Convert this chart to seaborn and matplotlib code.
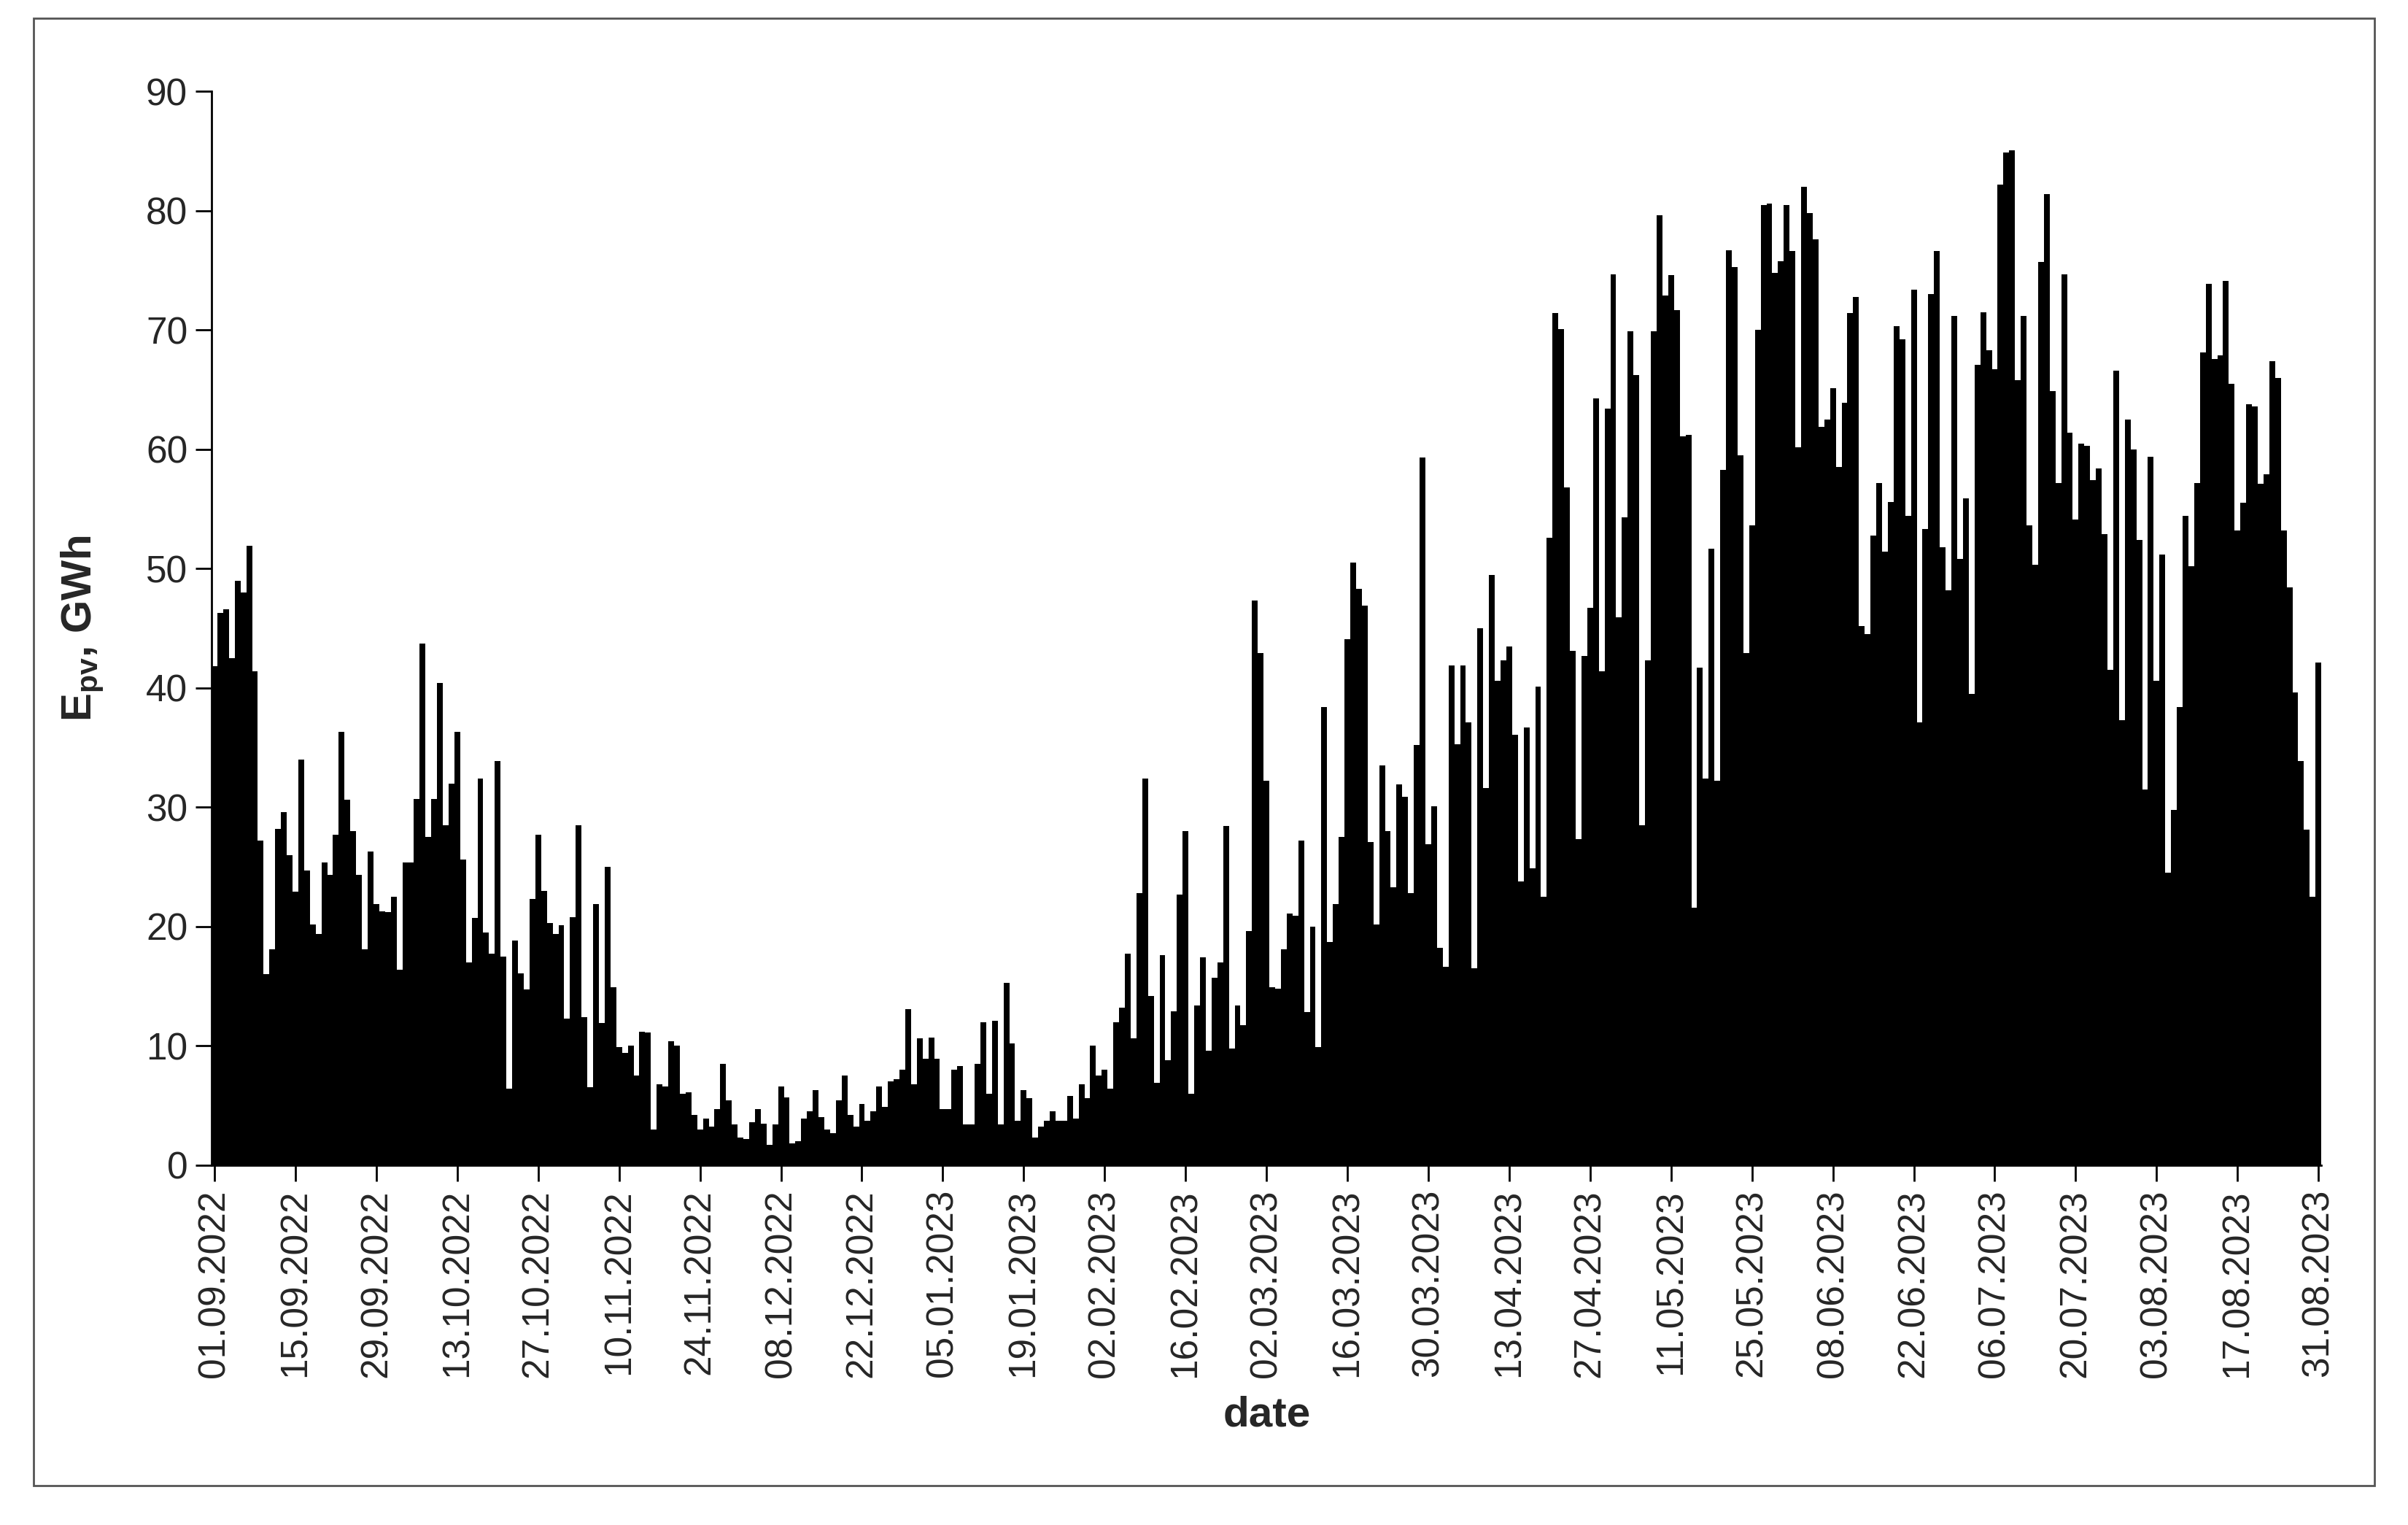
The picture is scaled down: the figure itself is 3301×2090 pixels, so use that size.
import numpy as np
import pandas as pd
import matplotlib
matplotlib.use("Agg")
import matplotlib.pyplot as plt
import seaborn as sns
from matplotlib.patches import Rectangle

start_date = "2022-09-01"
values = [
    41.8, 46.3, 46.6, 42.5, 49, 48, 51.9, 41.4, 27.2, 16, 18.1, 28.2, 29.6, 26, 22.9,
    34, 24.7, 20.2, 19.4, 25.4, 24.3, 27.7, 36.3, 30.6, 28, 24.3, 18.1, 26.3, 21.9, 21.3, 21.2,
    22.5, 16.4, 25.4, 25.4, 30.7, 43.7, 27.5, 30.7, 40.4, 28.5, 32, 36.3, 25.6, 17, 20.7, 32.4,
    19.5, 17.7, 33.9, 17.5, 6.4, 18.8, 16.1, 14.7, 22.3, 27.7, 23, 20.3, 19.4, 20.1, 12.3, 20.8,
    28.5, 12.4, 6.5, 21.9, 11.9, 25, 14.9, 9.9, 9.4, 10, 7.5, 11.2, 11.1, 3, 6.8, 6.6, 10.4, 10,
    6, 6.1, 4.2, 3, 3.9, 3.2, 4.7, 8.5, 5.4, 3.4, 2.3, 2.2, 3.6,
    4.7, 3.5, 1.7, 3.4, 6.6, 5.7, 1.8, 2.0, 3.9, 4.5, 6.3, 4.0, 3.0, 2.7, 5.4, 7.5, 4.2, 3.2,
    5.1, 3.7, 4.5, 6.6, 4.9, 7.0, 7.2, 8.0, 13.1, 6.8, 10.6, 8.9, 10.7,
    8.9, 4.7, 4.7, 8.0, 8.3, 3.4, 3.4, 8.5, 12.0, 6.0, 12.1, 3.4, 15.3, 10.2, 3.7, 6.3, 5.6,
    2.3, 3.2, 3.7, 4.5, 3.7, 3.7, 5.8, 3.9, 6.8, 5.6, 10.0, 7.5, 8.0, 6.4, 12.0,
    13.2, 17.7, 10.6, 22.8, 32.4, 14.2, 6.9, 17.6, 8.8, 12.9, 22.7, 28, 6.0, 13.4, 17.4, 9.6,
    15.7, 17.0, 28.4, 9.8, 13.4, 11.7, 19.6, 47.3, 42.9, 32.2, 14.9, 14.8, 18.1, 21.1, 20.9, 27.2,
    12.8, 20.0, 9.9, 38.4, 18.7, 21.9, 27.5, 44.1, 50.5, 48.3, 46.9, 27.1, 20.2, 33.5, 28.0,
    23.3, 31.9, 30.9, 22.8, 35.2, 59.3, 26.9, 30.1, 18.2, 16.6, 41.9, 35.3, 41.9, 37.1, 16.5, 45,
    31.6, 49.5, 40.6, 42.3, 43.5, 36.1, 23.8, 36.7, 24.9, 40.1, 22.5, 52.6, 71.4, 70.1, 56.8,
    43.1, 27.3, 42.7, 46.7, 64.3, 41.4, 63.4, 74.7, 45.9, 54.3, 69.9, 66.2, 28.5, 42.3, 69.9, 79.6,
    72.9, 74.6, 71.7, 61.1, 61.2, 21.6, 41.7, 32.4, 51.7, 32.2, 58.3, 76.7, 75.3, 59.5, 42.9,
    53.6, 70.0, 80.5, 80.6, 74.8, 75.8, 80.5, 76.6, 60.2, 82.0, 79.8, 77.6, 61.9, 62.5, 65.1, 58.5, 63.9,
    71.4, 72.8, 45.2, 44.5, 52.8, 57.2, 51.4, 55.6, 70.3, 69.2, 54.4, 73.4, 37.1, 53.3, 73.0,
    76.6, 51.8, 48.2, 71.2, 50.8, 55.9, 39.5, 67.1, 71.5, 68.3, 66.7, 82.2, 84.9, 85.1, 65.8, 71.2,
    53.6, 50.3, 75.7, 81.4, 64.9, 57.2, 74.7, 61.4, 54.1, 60.5, 60.3, 57.4, 58.4, 52.9, 41.5,
    66.6, 37.3, 62.5, 60.0, 52.4, 31.5, 59.4, 40.6, 51.2, 24.5, 29.8, 38.4, 54.4, 50.2, 57.2, 68.1, 73.9,
    67.6, 67.9, 74.1, 65.5, 53.2, 55.5, 63.8, 63.6, 57.1, 57.9, 67.4, 66.0, 53.2, 48.4, 39.6,
    33.9, 28.1, 22.5, 42.1,
]
dates = pd.date_range(start_date, periods=len(values), freq="D")
df = pd.DataFrame({"day": np.arange(len(values)), "E": values})
tick_days = list(range(0, len(values), 14))
tick_labels = [dates[d].strftime("%d.%m.%Y") for d in tick_days]
yticks = list(range(0, 91, 10))

sns.set_theme(style="white")
plt.rcParams["font.family"] = ["Liberation Sans", "DejaVu Sans"]
plt.rcParams["mathtext.fontset"] = "custom"
plt.rcParams["mathtext.bf"] = "Liberation Sans:bold"
plt.rcParams["mathtext.rm"] = "Liberation Sans"

fig = plt.figure(figsize=(33.01, 20.90), dpi=100)
ax = fig.add_axes([0.088, 0.236, 0.876, 0.704])
sns.barplot(data=df, x="day", y="E", color="black", width=1.0, saturation=1,
            linewidth=0, ax=ax, native_scale=True)
ax.set_xlim(-0.45, len(values) - 0.5)
ax.set_ylim(0, 90)
ax.set_yticks(yticks)
ax.set_yticklabels([str(v) for v in yticks], fontsize=37)
ax.set_xticks(tick_days)
ax.set_xticklabels(tick_labels, rotation=90, fontsize=37)
ax.tick_params(axis="both", direction="out", length=16, width=2, color="black",
               left=True, bottom=True, pad=8)
for s in ["top", "right"]:
    ax.spines[s].set_visible(False)
for s in ["left", "bottom"]:
    ax.spines[s].set_color("black")
    ax.spines[s].set_linewidth(2)
ax.set_xlabel("date", fontsize=42, fontweight="bold", labelpad=18)
ax.set_ylabel(r"$\mathbf{E_{pv}}$, GWh", fontsize=42, fontweight="bold", labelpad=40)
ax.grid(False)

fig.patches.append(Rectangle((0.014, 0.026), 0.972, 0.962, transform=fig.transFigure,
                             fill=False, edgecolor="#555555", linewidth=2))
fig.savefig("out.png", dpi=100, facecolor="white")
